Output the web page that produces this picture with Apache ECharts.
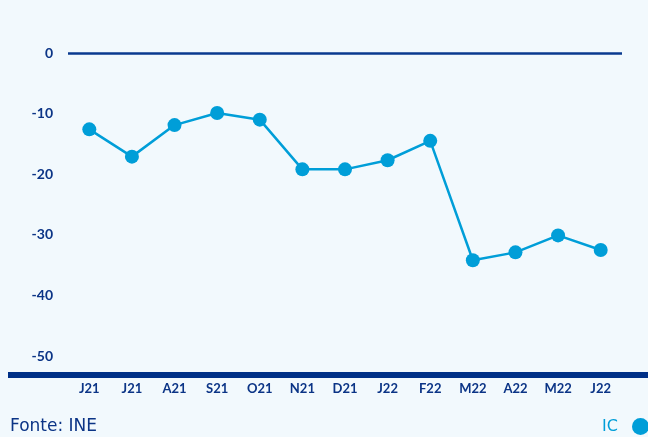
<!DOCTYPE html>
<html>
<head>
<meta charset="utf-8">
<script src="https://cdn.jsdelivr.net/npm/echarts@6/dist/echarts.min.js"></script>
<style>
html, body { margin: 0; padding: 0; background: #f2f9fd; }
#chart { width: 648px; height: 437px; }
</style>
</head>
<body>
<div id="chart"></div>
<script>
const months = ['J21', 'J21', 'A21', 'S21', 'O21', 'N21', 'D21', 'J22', 'F22', 'M22', 'A22', 'M22', 'J22'];
const icValues = [-12.6, -17.1, -11.9, -9.9, -11.0, -19.2, -19.2, -17.7, -14.5, -34.2, -32.9, -30.1, -32.5];
const yMin = -50;
const yMax = 0;
const yStep = 10;

const navy = '#0b3486';
const cyan = '#009ed8';

const myChart = echarts.init(document.getElementById('chart'));

const option = {
    backgroundColor: '#f2f9fd',
    animation: false,
    title: {
        text: 'Fonte: INE',
        left: 10,
        top: 418,
        padding: 0,
        textStyle: {
            color: navy,
            fontSize: 17,
            fontWeight: 'normal',
            fontFamily: 'DejaVu Sans'
        }
    },
    legend: {
        right: -1,
        top: 418,
        padding: 0,
        icon: 'circle',
        itemWidth: 17,
        itemHeight: 17,
        align: 'right',
        itemGap: 0,
        textStyle: {
            color: cyan,
            fontSize: 16,
            fontFamily: 'DejaVu Sans',
            padding: [0, 9, 0, 0]
        },
        data: ['IC']
    },
    grid: {
        left: 68,
        right: 26,
        top: 53,
        bottom: 81
    },
    xAxis: {
        type: 'category',
        data: months,
        axisLine: { show: false },
        axisTick: { show: false },
        axisLabel: {
            margin: 26,
            color: navy,
            fontSize: 13,
            fontWeight: 'bold',
            fontFamily: 'Lato'
        }
    },
    yAxis: {
        type: 'value',
        min: yMin,
        max: yMax,
        interval: yStep,
        axisLine: { show: false },
        axisTick: { show: false },
        splitLine: { show: false },
        axisLabel: {
            margin: 15,
            color: navy,
            fontSize: 14,
            fontWeight: 'bold',
            fontFamily: 'Lato'
        }
    },
    graphic: [
        {
            type: 'rect',
            left: 8,
            top: 372,
            shape: { width: 640, height: 6 },
            style: { fill: '#003087' },
            silent: true
        }
    ],
    series: [
        {
            name: 'IC',
            type: 'line',
            data: icValues,
            symbol: 'circle',
            symbolSize: 14,
            lineStyle: { color: cyan, width: 2.5 },
            itemStyle: { color: cyan },
            markLine: {
                silent: true,
                symbol: 'none',
                label: { show: false },
                lineStyle: { color: '#0a3a8f', width: 2.5, type: 'solid' },
                data: [{ yAxis: 0 }]
            }
        }
    ]
};

myChart.setOption(option);
</script>
</body>
</html>
